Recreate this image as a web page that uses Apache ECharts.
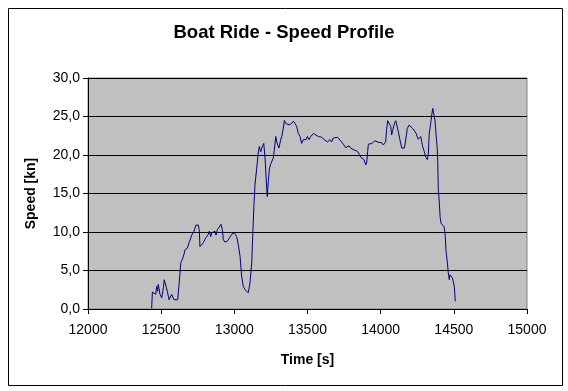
<!DOCTYPE html>
<html>
<head>
<meta charset="utf-8">
<script src="https://cdn.jsdelivr.net/npm/echarts@6/dist/echarts.min.js"></script>
<style>html,body{margin:0;padding:0;background:#fff}#c{width:568px;height:391px}</style>
</head>
<body>
<div id="c"></div>
<script>
const times = [12435,12440,12453,12463,12469,12476,12480,12492,12504,12515,12521,12531,12542,12554,12560,12572,12579,12588,12599,12613,12622,12629,12634,12644,12656,12663,12679,12690,12702,12709,12724,12731,12738,12754,12761,12765,12777,12788,12804,12811,12822,12829,12839,12845,12856,12868,12875,12884,12897,12909,12918,12925,12936,12952,12966,12982,13000,13011,13016,13027,13039,13050,13061,13073,13085,13095,13107,13119,13126,13134,13141,13153,13164,13171,13180,13187,13194,13201,13210,13216,13225,13232,13239,13246,13255,13266,13273,13283,13290,13296,13305,13317,13324,13335,13342,13351,13362,13374,13380,13392,13403,13415,13426,13437,13449,13460,13471,13483,13490,13499,13510,13522,13540,13551,13574,13597,13608,13620,13638,13654,13665,13676,13688,13706,13722,13734,13745,13761,13772,13784,13795,13806,13818,13840,13847,13854,13864,13875,13886,13898,13905,13911,13916,13927,13939,13950,13961,13973,13984,13996,14007,14018,14025,14034,14041,14048,14059,14069,14075,14082,14091,14103,14110,14121,14132,14144,14155,14162,14171,14182,14194,14205,14219,14230,14242,14253,14257,14264,14274,14280,14287,14298,14308,14319,14326,14332,14342,14349,14356,14360,14365,14371,14378,14387,14390,14394,14401,14406,14412,14424,14433,14440,14447,14456,14462,14469,14474,14481,14490,14496,14503,14510];
const speeds = [0.1,2.2,2.2,1.9,2.95,2.3,3.2,1.9,1.45,2.75,3.8,3.6,2.3,1.2,1.0,1.9,2.1,1.2,1.1,1.2,1.2,4.7,6.0,6.4,7.1,7.7,7.9,8.6,9.2,9.6,10.1,10.3,10.9,10.9,10.1,8.1,8.1,8.6,9.2,9.4,9.7,10.1,9.4,9.9,9.9,10.1,9.6,10.3,10.5,11.0,10.3,9.0,8.7,8.8,9.2,9.7,9.9,9.65,9.4,8.35,6.85,4.25,2.95,2.5,2.75,2.1,3.4,6.0,9.65,13.5,16.1,18.3,20.4,21.1,20.4,20.9,20.7,21.5,19.6,17.4,14.6,16.55,18.1,18.7,18.5,19.6,20.65,22.4,21.7,21.3,20.9,22.0,22.4,23.5,24.5,24.1,24.3,23.9,23.7,24.1,24.4,24.1,23.7,22.8,22.4,21.5,22.0,22.2,22.0,22.4,22.0,22.4,22.8,22.6,22.4,22.3,22.2,21.9,21.7,22.0,21.7,22.2,22.25,22.3,21.95,21.7,21.4,20.95,21.1,21.2,20.9,20.75,20.65,20.5,20.45,20.1,19.7,19.6,19.4,18.7,19.1,20.45,21.4,21.6,21.5,21.6,21.85,21.6,21.65,21.5,21.6,21.3,21.4,21.7,23.35,24.45,24.45,23.7,22.6,23.15,23.9,24.45,23.9,23.0,21.95,20.9,20.65,20.9,21.95,23.45,23.9,23.75,23.45,23.25,22.8,22.7,22.05,22.3,22.4,21.75,21.1,20.45,19.7,19.4,20.2,22.8,24.1,25.2,26.05,26.2,25.85,24.55,22.8,20.65,19.15,15.5,13.75,12.0,11.15,11.05,10.7,9.85,7.5,6.0,4.7,3.8,4.45,4.25,4.05,3.8,2.95,1.0];
const titleText = 'Boat Ride - Speed Profile';
const xName = 'Time [s]';
const yName = 'Speed [kn]';

const chart = echarts.init(document.getElementById('c'), null, {renderer: 'canvas'});
const font = 'Liberation Sans, Arial, sans-serif';
chart.setOption({
  animation: false,
  backgroundColor: '#ffffff',
  graphic: [{
    type: 'rect', left: 6, top: 6, z: -10,
    shape: {width: 554, height: 377},
    style: {fill: 'none', stroke: '#000', lineWidth: 1}
  }],
  title: {
    text: titleText, left: 'center', top: 18,
    textStyle: {fontFamily: font, fontWeight: 'bold', fontSize: 18.5, color: '#000'}
  },
  grid: {
    left: 88, right: 41, top: 78, bottom: 82,
    show: true, backgroundColor: '#c0c0c0', borderColor: '#808080', borderWidth: 1
  },
  xAxis: {
    type: 'value', min: 12000, max: 15000, interval: 500,
    name: xName, nameLocation: 'middle', nameGap: 44,
    nameTextStyle: {fontFamily: font, fontWeight: 'bold', fontSize: 14, color: '#000'},
    axisLine: {show: true, onZero: false, lineStyle: {color: '#000', width: 1}},
    axisTick: {show: true, length: 5, lineStyle: {color: '#000'}},
    axisLabel: {fontFamily: font, fontSize: 14, color: '#000', margin: 14, formatter: v => String(v)},
    splitLine: {show: false}
  },
  yAxis: {
    type: 'value', min: 0, max: 30, interval: 5,
    name: yName, nameLocation: 'middle', nameGap: 50, nameRotate: 90,
    nameTextStyle: {fontFamily: font, fontWeight: 'bold', fontSize: 14, color: '#000'},
    axisLine: {show: true, lineStyle: {color: '#000', width: 1}},
    axisTick: {show: true, length: 5, lineStyle: {color: '#000'}},
    axisLabel: {fontFamily: font, fontSize: 14, color: '#000', margin: 8,
      formatter: v => v.toFixed(1).replace('.', ',')},
    splitLine: {show: true, lineStyle: {color: '#000', width: 1}}
  },
  series: [{
    type: 'line', data: times.map((t, i) => [t, speeds[i]]),
    showSymbol: false, symbol: 'none',
    lineStyle: {color: '#000080', width: 1}
  }]
});
</script>
</body>
</html>
